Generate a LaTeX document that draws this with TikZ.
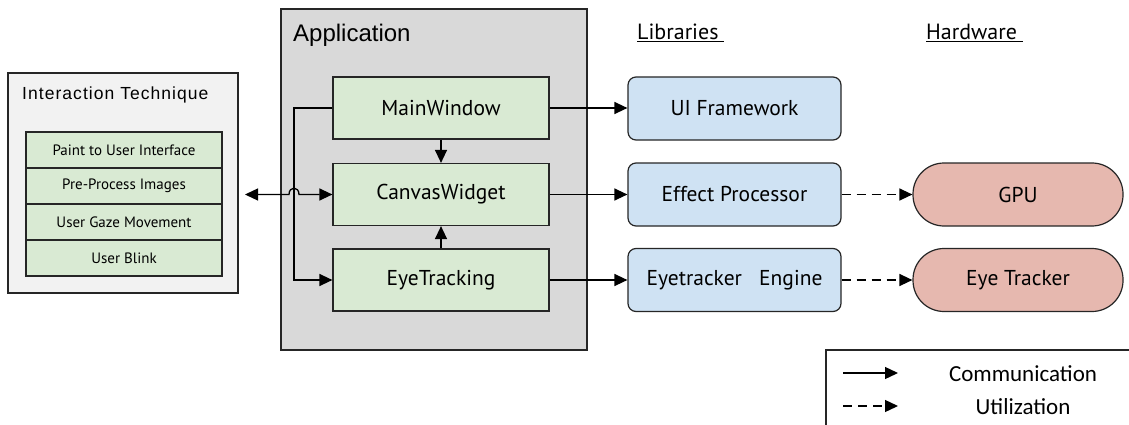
\documentclass[tikz,border=0pt]{standalone}
\usepackage{fontspec}
\setmainfont{PT Sans}
\newfontfamily\arialf{Liberation Sans}
\newfontfamily\calib{Carlito}
\usetikzlibrary{arrows.meta}
\definecolor{grn}{HTML}{D9EAD3}
\definecolor{blu}{HTML}{CFE2F3}
\definecolor{sal}{HTML}{E6B8AF}
\definecolor{appg}{HTML}{D9D9D9}
\definecolor{intg}{HTML}{F2F2F2}
\definecolor{edge}{HTML}{262626}
\begin{document}
\begin{tikzpicture}[x=1pt,y=-1pt,
  box/.style={draw=edge,line width=1.2pt,inner sep=0pt,align=center},
  comp/.style={box,fill=grn,minimum width=216pt,minimum height=62pt,font=\fontsize{21.5}{25}\selectfont},
  sub/.style={box,fill=grn,minimum width=196pt,minimum height=36pt,font=\fontsize{15}{18}\selectfont},
  lib/.style={box,fill=blu,rounded corners=8pt,minimum width=213pt,minimum height=63pt,font=\fontsize{21.5}{25}\selectfont},
  hw/.style={box,fill=sal,rounded corners=31pt,minimum width=210pt,minimum height=63pt,font=\fontsize{21.5}{25}\selectfont},
  tip/.tip={Triangle[length=13pt,width=12pt]},
  conn/.style={line width=1.3pt,draw=black,-tip},
  util/.style={conn,dash pattern=on 9pt off 6pt},
  hdr/.style={anchor=base west,inner sep=0pt,font=\fontsize{22}{26}\selectfont}
]
\useasboundingbox (0,0) rectangle (1129,425);
\clip (0,0) rectangle (1129,425);
% containers
\node[box,fill=intg,minimum width=230pt,minimum height=220pt] (inter) at (123,183) {};
\node[anchor=base west,inner sep=0pt,font=\arialf\fontsize{17.5}{20}\selectfont\addfontfeatures{LetterSpace=6}] (intertitle) at (22,100) {Interaction Technique};
\node[sub] (s1) at (124,150) {Paint to User Interface};
\node[sub] (s2) at (124,186) {Pre-Process Images};
\node[sub] (s3) at (124,222) {User Gaze Movement};
\node[sub] (s4) at (124,258) {User Blink};

\node[box,fill=appg,minimum width=306pt,minimum height=341pt] (app) at (434,179.5) {};
\node[anchor=base west,inner sep=0pt,font=\arialf\fontsize{24}{28}\selectfont] (apptitle) at (293,42) {Application};

\node[comp] (main) at (441,108) {MainWindow};
\node[comp] (canvas) at (441,194.5) {CanvasWidget};
\node[comp] (eye) at (441,280) {EyeTracking};

\node[lib] (ui) at (734.5,108.5) {UI Framework};
\node[lib] (eff) at (734.5,194.5) {Effect Processor};
\node[lib] (eng) at (734.5,280) {Eyetracker\ \ \ Engine};

\node[hw] (gpu) at (1018,194.5) {GPU};
\node[hw] (et) at (1018,280) {Eye Tracker};

\node[hdr] (libs) at (637,40) {\underline{Libraries\ }};
\node[hdr] (hwh) at (926,40) {\underline{Hardware\ }};

% connectors
\draw[conn] (main.east) -- (main.east -| ui.west);
\draw[conn] (canvas.east) -- (eff.west);
\draw[conn] (eye.east) -- (eng.west);
\draw[util] (eff.east) -- (gpu.west);
\draw[util] (eng.east) -- (et.west);
\draw[conn] (main.south) -- (canvas.north);
\draw[conn] (eye.north) -- (canvas.south);
\coordinate (bx) at (294,108);
\coordinate (by) at (294,280);
\draw[conn] (main.west) -- (bx) -- (by) -- (eye.west);
\coordinate (itend) at (245,194.5);
\coordinate (jl) at (289,194.5);
\coordinate (jr) at (299,194.5);
\draw[line width=1.3pt,tip-tip] (itend) -- (jl) .. controls (289,186) and (299,186) .. (jr) -- (canvas.west);

% legend
\draw[edge,line width=1.2pt,fill=white] (826,350) rectangle (1150,450);
\coordinate (l1a) at (843,373);
\coordinate (l1b) at (898,373);
\coordinate (l2a) at (843,406);
\coordinate (l2b) at (898,406);
\draw[conn] (l1a) -- (l1b);
\draw[util] (l2a) -- (l2b);
\node[font=\calib\fontsize{23}{27}\selectfont] (lc) at (1023,374) {Communication};
\node[font=\calib\fontsize{23}{27}\selectfont] (lu) at (1023,407) {Utilization};
\end{tikzpicture}
\end{document}
